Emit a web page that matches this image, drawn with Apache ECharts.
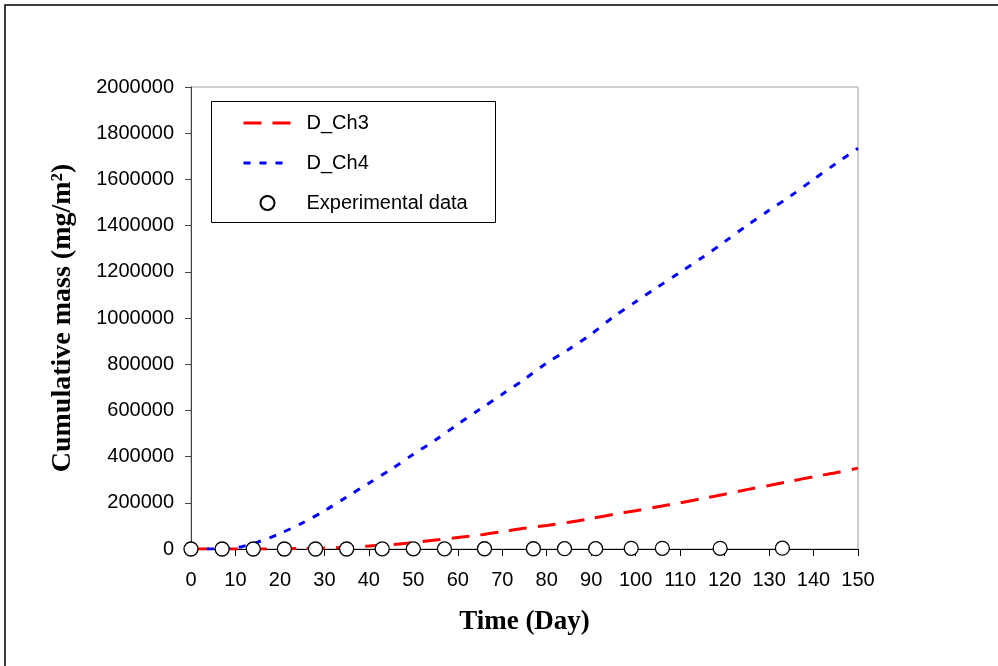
<!DOCTYPE html>
<html>
<head>
<meta charset="utf-8">
<script src="https://cdn.jsdelivr.net/npm/echarts@6/dist/echarts.min.js"></script>
<style>html,body{margin:0;padding:0;background:#fff}#c{width:998px;height:666px}</style>
</head>
<body>
<div id="c"></div>
<script>
const days = [0,5,10,15,20,25,30,35,40,45,50,55,60,65,70,75,80,85,90,95,100,105,110,115,120,125,130,135,140,145,150];
const dCh3 = [0,0,0,0,1000,2000,4000,8000,13000,19000,28000,39000,50000,61000,75000,90000,102000,116000,132000,150000,166000,183000,200000,218000,237000,257000,275000,294000,313000,330000,350000];
const dCh4 = [0,0,5000,30000,67000,112000,165000,225000,285000,345000,410000,472000,540000,605000,670000,735000,805000,865000,930000,1005000,1070000,1135000,1198000,1262000,1330000,1400000,1466000,1530000,1600000,1668000,1735000];
const expDays = [0,7,14,21,28,35,43,50,57,66,77,84,91,99,106,119,133];
const expVals = [0,0,0,0,0,0,500,500,500,1000,1000,1500,1500,3000,3000,3000,3500];
const seriesNames = ['D_Ch3','D_Ch4','Experimental data'];
const xTitle = 'Time (Day)';
const yTitle = 'Cumulative mass (mg/m\u00B2)';

const chart = echarts.init(document.getElementById('c'), null, {renderer:'canvas'});
const pair = (xs, ys) => xs.map((x, i) => [x, ys[i]]);
const sans = 'Liberation Sans, Arial, sans-serif';
const serif = 'Liberation Serif, Times New Roman, serif';
chart.setOption({
  animation: false,
  backgroundColor: '#fff',
  grid: {left: 191, right: 140, top: 87, bottom: 117, show: true, borderColor: '#a0a0a0', borderWidth: 1, containLabel: false},
  xAxis: {
    type: 'value', min: 0, max: 150, interval: 10,
    name: xTitle, nameLocation: 'middle', nameGap: 60,
    nameTextStyle: {fontFamily: serif, fontWeight: 'bold', fontSize: 27, color: '#000'},
    axisLine: {show: true, onZero: false, lineStyle: {color: '#000', width: 1}},
    axisTick: {show: true, inside: false, length: 7, lineStyle: {color: '#000'}},
    axisLabel: {margin: 21, fontFamily: sans, fontSize: 20, color: '#000'},
    splitLine: {show: false}
  },
  yAxis: {
    type: 'value', min: 0, max: 2000000, interval: 200000,
    name: yTitle, nameLocation: 'middle', nameGap: 114, nameRotate: 90,
    nameTextStyle: {fontFamily: serif, fontWeight: 'bold', fontSize: 28, color: '#000'},
    axisLine: {show: true, lineStyle: {color: '#444', width: 1}},
    axisTick: {show: true, inside: false, length: 6, lineStyle: {color: '#444'}},
    axisLabel: {margin: 17, fontFamily: sans, fontSize: 20, color: '#000', formatter: v => String(v)},
    splitLine: {show: false}
  },
  legend: {
    orient: 'vertical', left: 242, top: 113, padding: 0, itemWidth: 48, itemHeight: 14, itemGap: 20, z: 20,
    data: [
      {name: seriesNames[0], itemStyle: {opacity: 0}, lineStyle: {width: 3}},
      {name: seriesNames[1], itemStyle: {opacity: 0}, lineStyle: {width: 3}},
      {name: seriesNames[2]}
    ],
    textStyle: {fontFamily: sans, fontSize: 20, color: '#000', padding: [0,0,0,10]}
  },
  graphic: [
    {type: 'rect', shape: {x: 5, y: 5, width: 2000, height: 2000}, style: {fill: 'none', stroke: '#000', lineWidth: 1.5}, silent: true, z: 0},
    {type: 'rect', shape: {x: 211.5, y: 101.5, width: 284, height: 121}, style: {fill: 'none', stroke: '#000', lineWidth: 1}, silent: true, z: 1}
  ],
  series: [
    {name: seriesNames[0], type: 'line', data: pair(days, dCh3), symbol: 'none', smooth: 0.3,
     lineStyle: {color: '#ff0000', width: 3, type: [18, 11]}, itemStyle: {color: '#ff0000'}, z: 3},
    {name: seriesNames[1], type: 'line', data: pair(days, dCh4), symbol: 'none', smooth: 0.3,
     lineStyle: {color: '#0000ff', width: 3, type: [7, 9]}, itemStyle: {color: '#0000ff'}, z: 3},
    {name: seriesNames[2], type: 'scatter', data: pair(expDays, expVals), symbol: 'circle', symbolSize: 14,
     itemStyle: {color: '#fff', borderColor: '#000', borderWidth: 1.3, opacity: 1}, z: 4}
  ]
});
</script>
</body>
</html>
